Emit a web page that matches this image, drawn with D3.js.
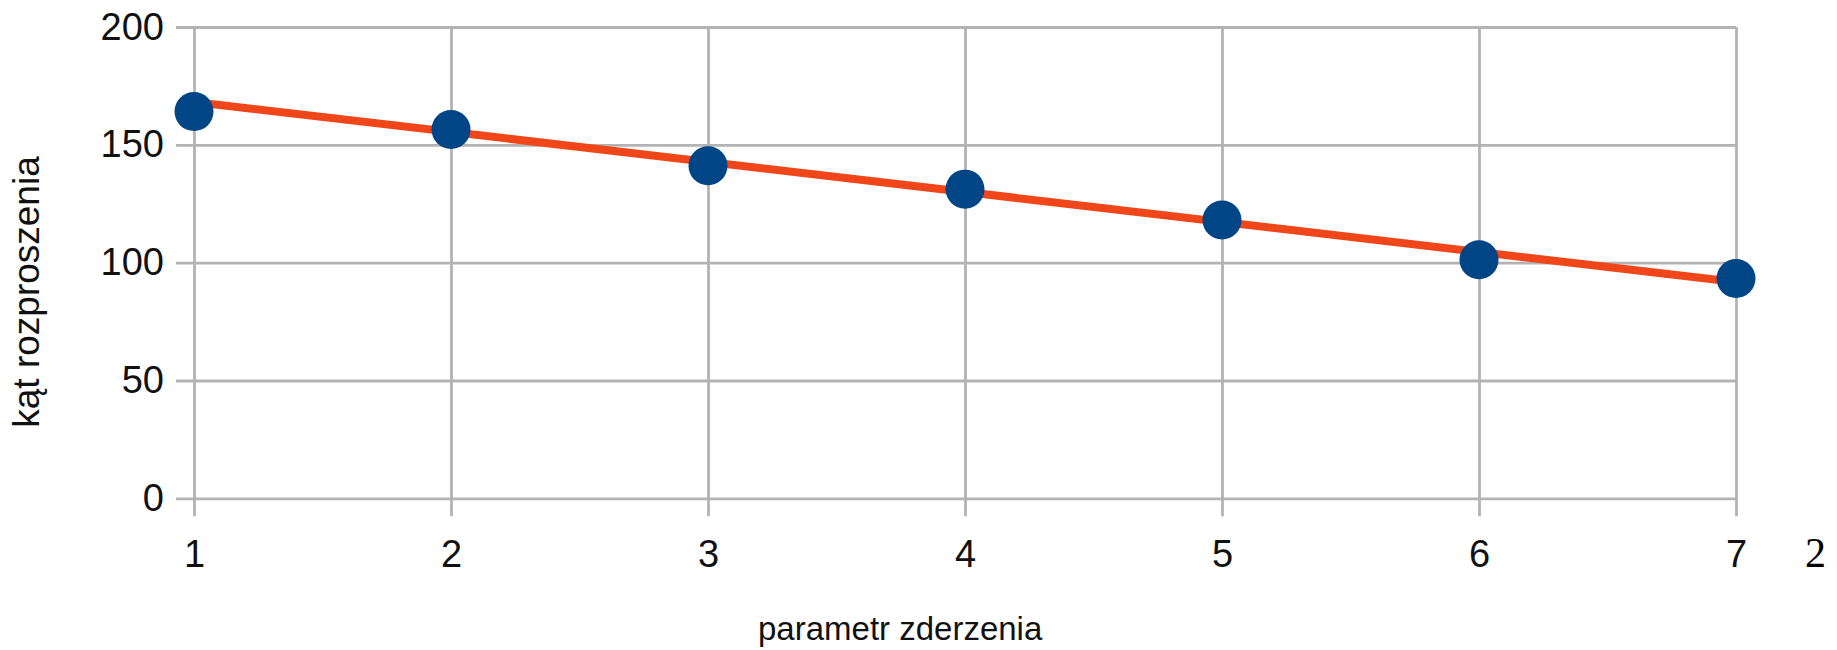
<!DOCTYPE html>
<html>
<head>
<meta charset="utf-8">
<script src="https://cdn.jsdelivr.net/npm/d3@7"></script>
<style>
  html, body { margin: 0; padding: 0; background: #fff; }
  svg { display: block; }
  .axis text { font-family: "Liberation Sans", Arial, sans-serif; font-size: 38px; fill: #111; }
  .axis line { stroke: #b3b3b3; stroke-width: 2.8px; }
  .axis path { display: none; }
  .title { font-family: "Liberation Sans", Arial, sans-serif; fill: #111; }
</style>
</head>
<body>
<script>
// Data
const xValues = [1, 2, 3, 4, 5, 6, 7];
const yValues = [164.1, 156.5, 141.1, 131.2, 118.1, 101.2, 93.3];
const trendX = [1, 7];
const trendY = [168.2, 91.8];
const xTicks = [1, 2, 3, 4, 5, 6, 7];
const yTicks = [0, 50, 100, 150, 200];
const xTitle = "parametr zderzenia";
const yTitle = "kąt rozproszenia";
const strayLabel = "2";

const W = 1837, H = 650;
const plotLeft = 194, plotRight = 1736, plotTop = 27, plotBottom = 498.3;
const tickLen = 18;

const svg = d3.select("body").append("svg").attr("width", W).attr("height", H);

const x = d3.scaleLinear().domain([1, 7]).range([plotLeft, plotRight]);
const y = d3.scaleLinear().domain([0, 200]).range([plotBottom, plotTop]);

// Horizontal grid + y tick labels
svg.append("g").attr("class", "axis")
  .attr("transform", `translate(${plotLeft - tickLen},0)`)
  .call(d3.axisLeft(y).tickValues(yTicks).tickSize(-(plotRight - plotLeft + tickLen)).tickPadding(12).tickFormat(d3.format("d")));

// Vertical grid + x tick labels
svg.append("g").attr("class", "axis")
  .attr("transform", `translate(0,${plotBottom + tickLen})`)
  .call(d3.axisBottom(x).tickValues(xTicks).tickSize(-(plotBottom + tickLen - plotTop)).tickPadding(24).tickFormat(d3.format("d")));

// Trend line
const line = d3.line().x(d => x(d[0])).y(d => y(d[1]));
svg.append("path")
  .datum(trendX.map((d, i) => [d, trendY[i]]))
  .attr("d", line)
  .attr("fill", "none")
  .attr("stroke", "#f0461a")
  .attr("stroke-width", 8);

// Points
svg.append("g").selectAll("circle")
  .data(xValues.map((d, i) => [d, yValues[i]]))
  .join("circle")
  .attr("cx", d => x(d[0]))
  .attr("cy", d => y(d[1]))
  .attr("r", 19.5)
  .attr("fill", "#004586");

// Titles
svg.append("text").attr("class", "title")
  .attr("x", 758).attr("y", 640)
  .attr("font-size", 33)
  .attr("text-anchor", "start")
  .text(xTitle);

svg.append("text").attr("class", "title")
  .attr("transform", "translate(39,292) rotate(-90)")
  .attr("font-size", 37)
  .attr("text-anchor", "middle")
  .text(yTitle);

// Stray label at right
svg.append("text")
  .attr("x", 1805).attr("y", 567)
  .attr("font-family", "'Liberation Serif', 'Times New Roman', serif")
  .attr("font-size", 42)
  .attr("fill", "#000")
  .text(strayLabel);
</script>
</body>
</html>
